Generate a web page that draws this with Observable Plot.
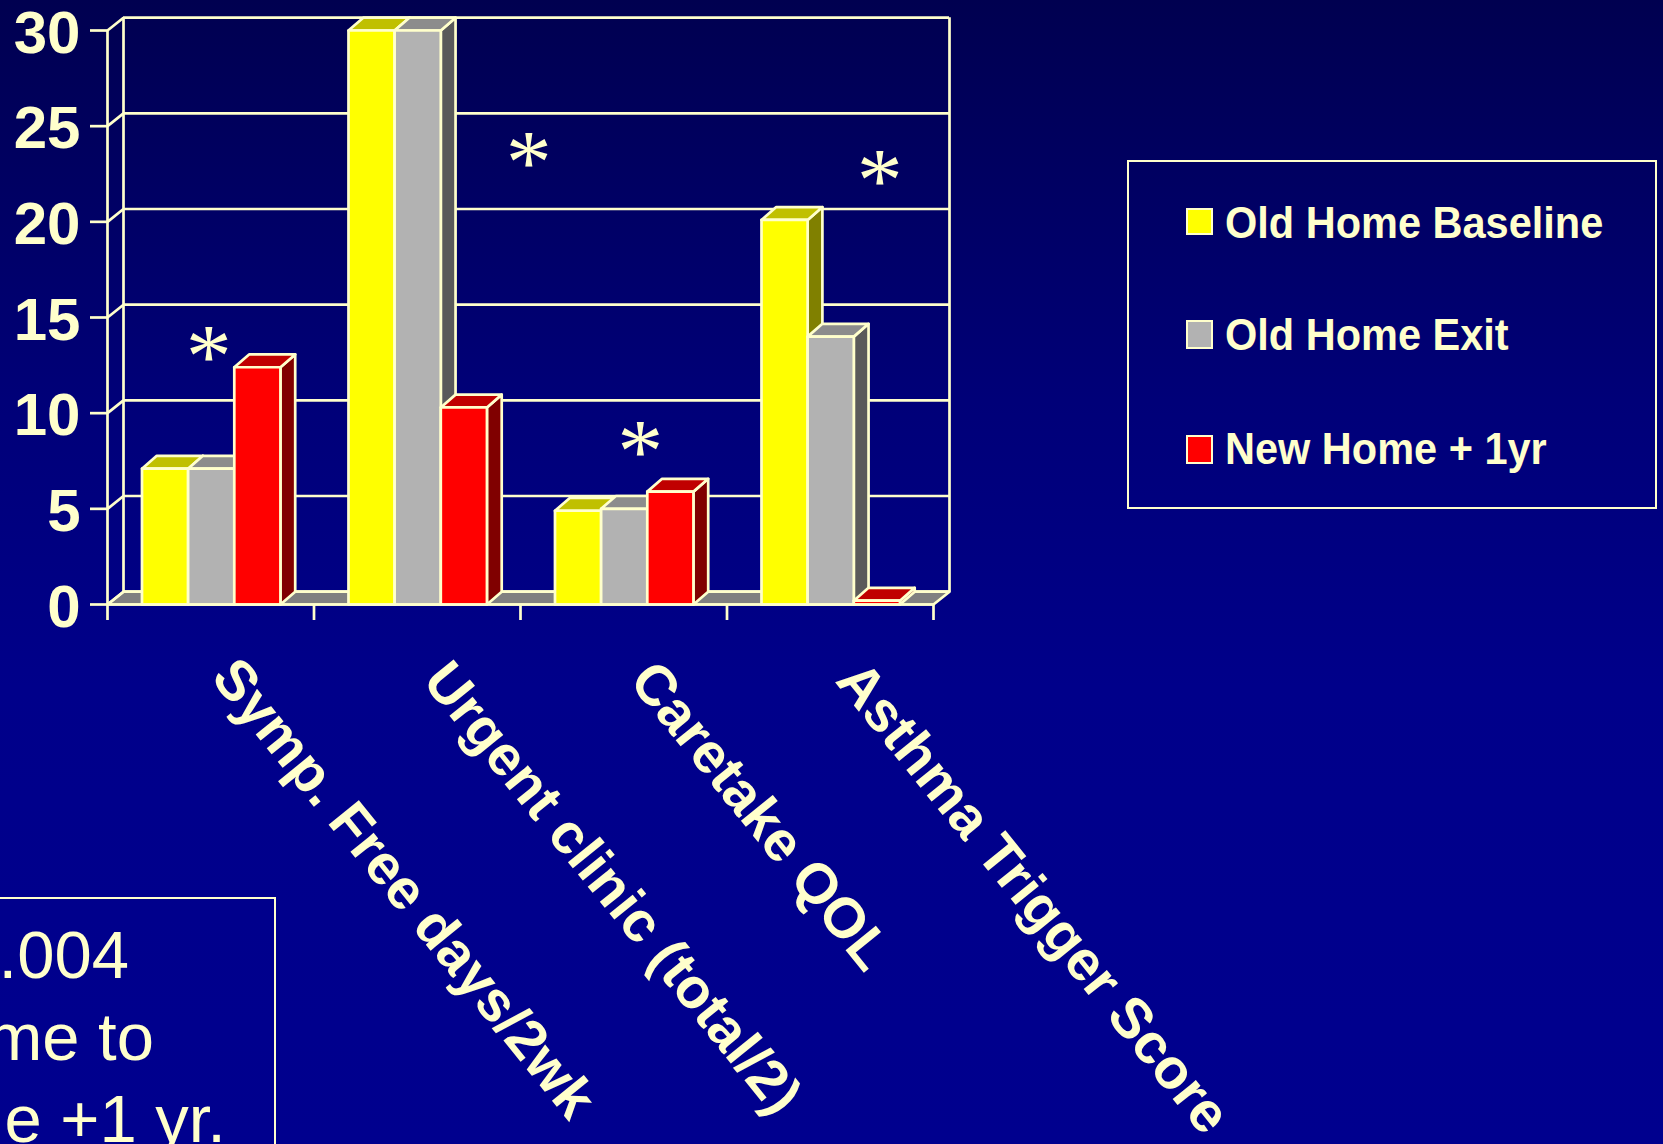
<!DOCTYPE html>
<html>
<head>
<meta charset="utf-8">
<script src="https://cdn.jsdelivr.net/npm/d3@7"></script>
<script src="https://cdn.jsdelivr.net/npm/@observablehq/plot@0.6"></script>
<style>
html,body{margin:0;padding:0;width:1663px;height:1144px;overflow:hidden;
  background:linear-gradient(180deg,#000050 0%,#000078 35%,#00008a 60%,#00008e 100%);}
#chart svg{display:block;background:transparent;overflow:hidden;}
.over{position:absolute;color:#ffffcc;font-family:"Liberation Sans",Arial,sans-serif;white-space:pre;}
.box{position:absolute;border:2px solid #ffffcc;box-sizing:border-box;}
.sw{position:absolute;border:2.5px solid #ffffcc;box-sizing:border-box;}
.lg{font-weight:bold;font-size:41.5px;line-height:1;transform-origin:0 100%;transform:scale(1,1.07);}
.nt{font-size:67px;line-height:1;}
</style>
</head>
<body>
<div id="chart"></div>
<script>
const categories = ["Symp. Free days/2wk","Urgent clinic (total/2)","Caretake QOL","Asthma Trigger Score"];
const seriesNames = ["Old Home Baseline","Old Home Exit","New Home + 1yr"];
const baseline = [7.1, 30, 4.9, 20.1];
const exit     = [7.1, 30, 5.0, 14.0];
const newHome  = [12.4, 10.3, 5.9, 0.2];
const yTicks = [0,5,10,15,20,25,30];
const labelX = [0.5, 1.525, 2.525, 3.525];
const labelY = [0, -0.17, -0.17, -0.17];
const starX = [0.49, 2.04, 2.58, 3.74];
const starY = [13.6, 23.7, 8.6, 22.8];
const noteLines = [".004","me to","e +1 yr."];

const cream = "#ffffcc";
const font = '"Liberation Sans",Arial,sans-serif';
const faces = [
  {front:"#ffff00", top:"#c0c000", side:"#808000"},
  {front:"#b2b2b2", top:"#8c8c8c", side:"#5a5a5a"},
  {front:"#ff0000", top:"#c00000", side:"#800000"}
];
const depthX = 0.0775, depthY = 0.67, barDepthX = 0.0715, barW = 0.2235, barStart = 0.167;

const polys = [];
function poly(id, color, pts){ pts.forEach(([x,y]) => polys.push({id,color,x,y})); }
categories.forEach((c,i) => {
  [baseline, exit, newHome].forEach((vals,s) => {
    const v = vals[i], x0 = i + barStart + s*barW, x1 = x0 + barW, id = `${i}-${s}`;
    poly(id+"side", faces[s].side, [[x1,0],[x1+barDepthX,depthY],[x1+barDepthX,v+depthY],[x1,v]]);
    poly(id+"top",  faces[s].top,  [[x0,v],[x1,v],[x1+barDepthX,v+depthY],[x0+barDepthX,v+depthY]]);
    poly(id+"front",faces[s].front,[[x0,0],[x1,0],[x1,v],[x0,v]]);
  });
});
const floor = [{x:0,y:0},{x:4,y:0},{x:4+depthX,y:depthY},{x:depthX,y:depthY}];

const lineStyle = {stroke:cream, strokeWidth:2.7};
const svg = Plot.plot({
  width:1663, height:1144,
  marginLeft:107, marginRight:730, marginTop:30, marginBottom:540,
  x:{type:"linear", domain:[0,4]},
  y:{type:"linear", domain:[0,30]},
  color:{type:"identity"},
  style:{background:"transparent"},
  marks:[
    Plot.line(floor,{x:"x",y:"y",fill:"#808080",curve:"linear-closed",...lineStyle}),
    Plot.ruleY(yTicks,{x1:depthX,x2:4+depthX,y:d=>d+depthY,...lineStyle}),
    Plot.ruleX([depthX,4+depthX],{y1:depthY,y2:30+depthY,...lineStyle}),
    Plot.link(yTicks,{x1:0,x2:depthX,y1:d=>d,y2:d=>d+depthY,...lineStyle}),
    Plot.ruleX([0],{y1:0,y2:30,...lineStyle}),
    Plot.line(polys,{x:"x",y:"y",z:"id",fill:"color",curve:"linear-closed",strokeLinejoin:"round",...lineStyle}),
    Plot.ruleY([0],{x1:0,x2:4,...lineStyle}),
    Plot.axisY({ticks:yTicks,anchor:"left",label:null,tickSize:17,tickFormat:()=>"",color:cream,stroke:cream,strokeWidth:2.7}),
    Plot.text(yTicks,{x:0,y:d=>d,text:d=>String(d),dx:-27,dy:3,textAnchor:"end",fontSize:60,fontWeight:"bold",fontFamily:font,fill:cream}),
    Plot.axisX({ticks:[0,1,2,3,4],anchor:"bottom",label:null,tickSize:16,tickFormat:()=>"",color:cream,stroke:cream,strokeWidth:2.7}),
    Plot.text(categories,{x:(d,i)=>labelX[i],y:(d,i)=>labelY[i],text:d=>d,rotate:51,textAnchor:"start",dx:13,dy:62,
      fontSize:56.5,fontWeight:"bold",fontFamily:font,fill:cream}),
    Plot.text(starX,{x:d=>d,y:(d,i)=>starY[i],text:()=>"*",fontSize:92,fontFamily:'"Liberation Serif",serif',dy:13,fill:cream})
  ]
});
document.getElementById("chart").appendChild(svg);

function place(cls,l,t,w,h,extra){
  const e=document.createElement("div"); e.className=cls;
  Object.assign(e.style,{left:l+"px",top:t+"px"});
  if(w!=null)e.style.width=w+"px"; if(h!=null)e.style.height=h+"px";
  Object.assign(e.style,extra||{}); document.body.appendChild(e); return e;
}
place("box",1127,160,530,349);
const swTop=[208,320,435], swH=[27,29,29], lgBase=[241,353,467];
seriesNames.forEach((n,i)=>{
  place("sw",1186,swTop[i],27,swH[i],{background:faces[i].front});
  const t=place("over lg",1225,lgBase[i]-38,null,null); t.textContent=n;
});
place("box",-10,897,286,300);
const noteEnd=[129,154,226], noteBase=[980,1062,1144];
noteLines.forEach((n,i)=>{
  const t=place("over nt",null,noteBase[i]-59,null,null,{left:"auto",right:(1663-noteEnd[i])+"px"});
  t.textContent=n;
});
</script>
</body>
</html>
